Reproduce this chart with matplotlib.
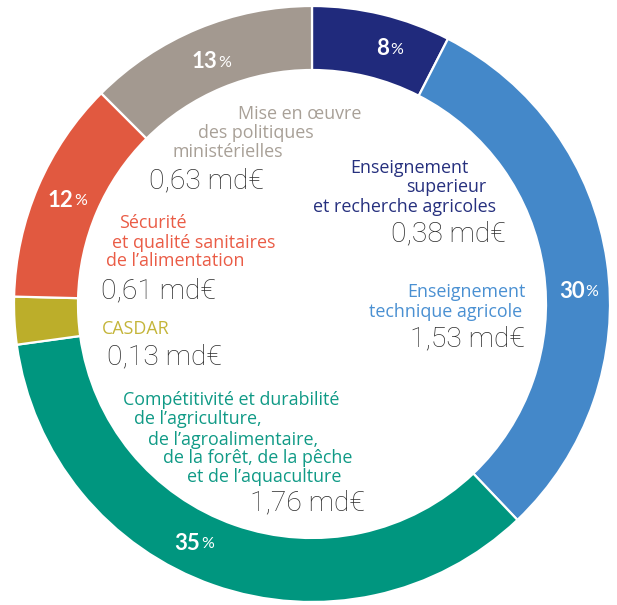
import matplotlib
matplotlib.use("Agg")
import matplotlib.pyplot as plt
import numpy as np

# ---- data ----
categories = [
    "Enseignement\nsuperieur\net recherche agricoles",
    "Enseignement\ntechnique agricole",
    "Compétitivité et durabilité\nde l’agriculture,\nde l’agroalimentaire,\nde la forêt, de la pêche\net de l’aquaculture",
    "CASDAR",
    "Sécurité\net qualité sanitaires\nde l’alimentation",
    "Mise en œuvre\ndes politiques\nministérielles",
]
values_mde = [0.38, 1.53, 1.76, 0.13, 0.61, 0.63]
value_labels = ["0,38 md€", "1,53 md€", "1,76 md€", "0,13 md€", "0,61 md€", "0,63 md€"]
pct_labels = ["8", "30", "35", "", "12", "13"]

colors = ["#202a7c", "#4488c9", "#00967f", "#bcae2a", "#e15940", "#a39990"]
text_colors = ["#26307e", "#4a90d2", "#109a86", "#c4b53a", "#ea5c46", "#a8a097"]

W, H = 617, 605
fig = plt.figure(figsize=(W / 100, H / 100), dpi=100)
ax = fig.add_axes([0, 0, 1, 1])

def Y(y):
    return H - y

cx, cy, R, ring = 312, 304, 298, 64
wedges, _ = ax.pie(values_mde, colors=colors, startangle=90, counterclock=False,
                   radius=R, center=(cx, Y(cy)), frame=True,
                   wedgeprops=dict(width=ring, edgecolor="white", linewidth=1.6))
ax.set_xlim(0, W)
ax.set_ylim(0, H)
ax.set_aspect("equal")
ax.axis("off")

# percentage labels on the ring
angle_offsets = [-2.0, -5.5, -7.0, 0.0, 0.3, 0.0]
radii = [265, 267, 267, 265, 266, 262]
for w, p, off, rr in zip(wedges, pct_labels, angle_offsets, radii):
    if not p:
        continue
    a = np.deg2rad((w.theta1 + w.theta2) / 2 + off)
    x = cx + rr * np.cos(a)
    y = Y(cy) + rr * np.sin(a)
    ax.text(x + 6, y, p, color="white", fontsize=16, fontweight="bold",
            family="Lato", ha="right", va="center")
    ax.text(x + 7, y - 1, "%", color="white", fontsize=11.5,
            family="Lato", ha="left", va="center")

# category labels: left x, center y (pixels) of each line
line_pos = {
    0: [(350, 168), (406, 187), (313, 207)],
    1: [(407, 292), (369, 312)],
    2: [(123, 400), (134, 419), (148, 440), (163, 458), (187, 477)],
    3: [(102, 329)],
    4: [(119, 223), (112, 243), (106, 261)],
    5: [(238, 114), (198, 133), (173, 152)],
}
value_pos = {0: (391, 234), 1: (410, 339), 2: (250, 503), 3: (107, 357), 4: (101, 291), 5: (149, 181)}

for i, cat in enumerate(categories):
    for (lx, ly), line in zip(line_pos[i], cat.split("\n")):
        ax.text(lx, Y(ly), line, color=text_colors[i], fontsize=12.9,
                family="Open Sans", ha="left", va="center")
    vx, vy = value_pos[i]
    ax.text(vx, Y(vy), value_labels[i], color="#2c2c2c", fontsize=20.3,
            family="Roboto", fontweight="light", ha="left", va="center")

fig.savefig("out.png", dpi=100)
